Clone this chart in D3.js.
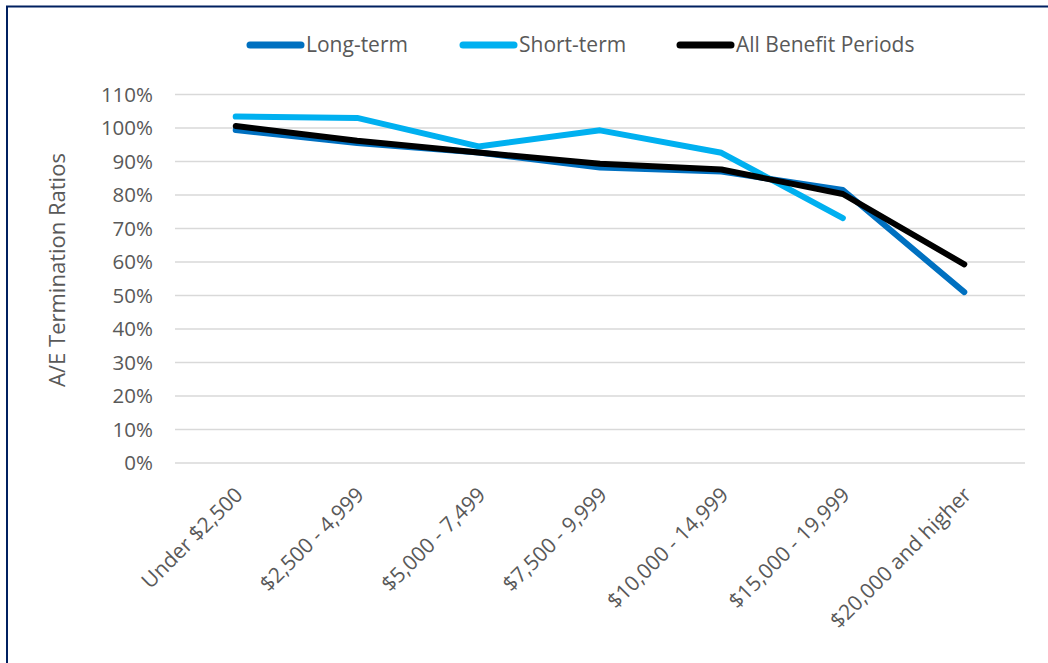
<!DOCTYPE html>
<html>
<head>
<meta charset="utf-8">
<script src="https://cdn.jsdelivr.net/npm/d3@7"></script>
<style>
  body { margin: 0; background: #fff; }
  text { font-family: "Open Sans", sans-serif; fill: #595959; }
</style>
</head>
<body>
<div id="chart"></div>
<script>
// categories and series
const categories = ["Under $2,500", "$2,500 - 4,999", "$5,000 - 7,499", "$7,500 - 9,999",
  "$10,000 - 14,999", "$15,000 - 19,999", "$20,000 and higher"];
const longTerm = [0.994, 0.955, 0.927, 0.882, 0.870, 0.815, 0.510];
const shortTerm = [1.034, 1.030, 0.945, 0.993, 0.926, 0.731, null];
const allPeriods = [1.006, 0.962, 0.927, 0.893, 0.876, 0.803, 0.593];
const yTicks = [0, 0.1, 0.2, 0.3, 0.4, 0.5, 0.6, 0.7, 0.8, 0.9, 1.0, 1.1];

const series = [
  { name: "Long-term", values: longTerm, color: "#0070C0" },
  { name: "Short-term", values: shortTerm, color: "#00B0F0" },
  { name: "All Benefit Periods", values: allPeriods, color: "#000000" }
];

const width = 1048, height = 663;
const margin = { top: 94.5, right: 23, bottom: 200, left: 175 };

const svg = d3.select("#chart").append("svg")
  .attr("width", width)
  .attr("height", height);

// frame (top and left edges only)
svg.append("line").attr("x1", 6).attr("x2", width).attr("y1", 6.5).attr("y2", 6.5)
  .attr("stroke", "#002060").attr("stroke-width", 2);
svg.append("line").attr("x1", 7).attr("x2", 7).attr("y1", 6).attr("y2", height)
  .attr("stroke", "#002060").attr("stroke-width", 2);

const x = d3.scaleBand()
  .domain(categories)
  .range([margin.left, width - margin.right]);

const y = d3.scaleLinear()
  .domain([0, 1.1])
  .range([463, margin.top]);

// gridlines
svg.append("g")
  .selectAll("line")
  .data(yTicks)
  .enter().append("line")
  .attr("x1", margin.left)
  .attr("x2", width - margin.right)
  .attr("y1", d => y(d))
  .attr("y2", d => y(d))
  .attr("stroke", "#d9d9d9")
  .attr("stroke-width", 1.5);

// y axis labels
const yAxis = svg.append("g")
  .attr("transform", "translate(" + margin.left + ",0)")
  .call(d3.axisLeft(y).tickValues(yTicks).tickFormat(d3.format(".0%")).tickSize(0).tickPadding(22));
yAxis.select(".domain").remove();
yAxis.selectAll("text")
  .style("font-family", "Open Sans, sans-serif")
  .style("font-size", "20.5px")
  .attr("fill", "#595959");

// x axis labels
const xAxis = svg.append("g")
  .attr("transform", "translate(0,463)")
  .call(d3.axisBottom(x).tickSize(0).tickPadding(0));
xAxis.select(".domain").remove();
xAxis.selectAll("text")
  .style("font-family", "Open Sans, sans-serif")
  .style("font-size", "21px")
  .attr("fill", "#595959")
  .attr("text-anchor", "end")
  .attr("dy", "0.35em")
  .attr("transform", "translate(3,28) rotate(-45)");

// y title
svg.append("text")
  .attr("transform", "translate(65,270) rotate(-90)")
  .attr("text-anchor", "middle")
  .style("font-size", "22px")
  .text("A/E Termination Ratios");

// lines
const line = d3.line()
  .defined(d => d != null)
  .x((d, i) => x(categories[i]) + x.bandwidth() / 2)
  .y(d => y(d));

svg.append("g")
  .selectAll("path")
  .data(series)
  .enter().append("path")
  .attr("fill", "none")
  .attr("stroke", d => d.color)
  .attr("stroke-width", 6)
  .attr("stroke-linecap", "round")
  .attr("stroke-linejoin", "round")
  .attr("d", d => line(d.values));

// legend
const legendX = [247, 460, 677];
const legend = svg.selectAll(".legend")
  .data(series)
  .enter().append("g")
  .attr("class", "legend")
  .attr("transform", (d, i) => "translate(" + legendX[i] + ",45)");

legend.append("line")
  .attr("x1", 3).attr("x2", 54)
  .attr("y1", 0).attr("y2", 0)
  .attr("stroke", d => d.color)
  .attr("stroke-width", 7)
  .attr("stroke-linecap", "round");

legend.append("text")
  .attr("x", 59)
  .attr("dy", "0.35em")
  .style("font-size", "21px")
  .text(d => d.name);
</script>
</body>
</html>
